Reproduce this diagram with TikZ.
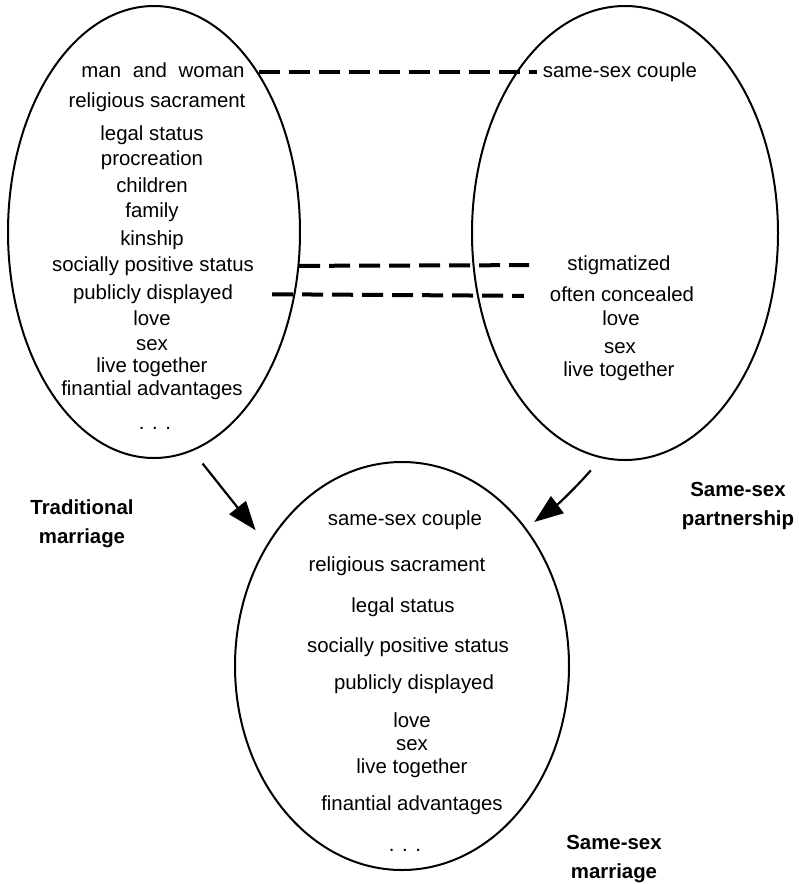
\documentclass[tikz,border=0pt]{standalone}
\usepackage{fontspec}
\setmainfont{Liberation Sans}
\usetikzlibrary{shapes.geometric,arrows.meta}
\begin{document}
\begin{tikzpicture}[x=1pt,y=-1pt,
  set/.style={draw=black,line width=2pt,ellipse,inner sep=0pt},
  item/.style={inner sep=0pt,font=\fontsize{20.4}{24}\selectfont,text height=14pt,text depth=4pt},
  caption/.style={inner sep=0pt,align=center,font=\fontsize{20.4}{29}\selectfont\bfseries},
  link/.style={line width=4pt,dash pattern=on 21pt off 9pt},
  flow/.style={line width=2.2pt,-{Triangle[length=29pt,width=21pt]}}]
\useasboundingbox (0,0) rectangle (799,884);

% the three sets
\node[set,minimum width=292pt,minimum height=452pt] (trad) at (154,232) {};
\node[set,minimum width=306pt,minimum height=454pt] (part) at (625,233) {};
\node[set,minimum width=334pt,minimum height=408pt] (ssm) at (402,666) {};

% traditional marriage
\node[item] (mw)   at (163,72)  {man\hspace{0.3em} and\hspace{0.3em} woman};
\node[item] (t2)   at (157,102) {religious sacrament};
\node[item] (t3)   at (152,135) {legal status};
\node[item] (t4)   at (152,160) {procreation};
\node[item] (t5)   at (152,187) {children};
\node[item] (t6)   at (152,212) {family};
\node[item] (t7)   at (152,240) {kinship};
\node[item] (sps)  at (153,266) {socially positive status};
\node[item] (pd)   at (153,294) {publicly displayed};
\node[item] (t10)  at (152,320) {love};
\node[item] (t11)  at (152,345) {sex};
\node[item] (t12)  at (152,367) {live together};
\node[item] (t13)  at (152,390) {finantial advantages};
\node[item] (t14)  at (155,424) {. . .};

% same-sex partnership
\node[item] (ssc)  at (620,72)  {same-sex couple};
\node[item] (stig) at (619,265) {stigmatized};
\node[item] (oc)   at (622,296) {often concealed};
\node[item] (p4)   at (621,320) {love};
\node[item] (p5)   at (620,348) {sex};
\node[item] (p6)   at (619,371) {live together};

% same-sex marriage
\node[item] (m1)   at (405,520) {same-sex couple};
\node[item] (m2)   at (397,566) {religious sacrament};
\node[item] (m3)   at (403,607) {legal status};
\node[item] (m4)   at (408,647) {socially positive status};
\node[item] (m5)   at (414,684) {publicly displayed};
\node[item] (m6)   at (412,722) {love};
\node[item] (m7)   at (412,745) {sex};
\node[item] (m8)   at (412,768) {live together};
\node[item] (m9)   at (412,805) {finantial advantages};
\node[item] (m10)  at (405,846) {. . .};

% labels
\node[caption] (ltrad) at (82,524)  {Traditional\\marriage};
\node[caption] (lpart) at (738,506) {Same-sex\\partnership};
\node[caption] (lssm)  at (614,859) {Same-sex\\marriage};

% correspondences
\draw[link,shorten <=14pt,shorten >=6pt]  (mw.east)  -- (ssc.west);
\draw[link,shorten <=45pt,shorten >=38pt] (sps.east) -- (stig.west);
\draw[link,shorten <=39pt,shorten >=26pt] (pd.east)  -- (oc.west);

% derivation arrows
\draw[flow,shorten <=16pt,shorten >=18pt] (trad.280) -- (ssm.138);
\draw[flow,shorten <=16pt,shorten >=10pt] (part.264) to[bend left=6] (ssm.48);
\end{tikzpicture}
\end{document}
